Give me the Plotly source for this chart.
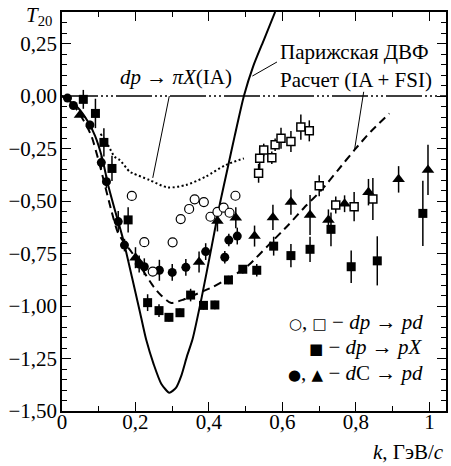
import plotly.graph_objects as go

# ---- theory curves ----
paris_x = [0, 0.04, 0.07, 0.09, 0.11, 0.125, 0.145, 0.166, 0.19, 0.211, 0.229, 0.25, 0.27, 0.292,
           0.31, 0.325, 0.34, 0.355, 0.38, 0.408, 0.43, 0.45, 0.47, 0.495, 0.52, 0.55, 0.58]
paris_y = [0, -0.05, -0.12, -0.19, -0.30, -0.42, -0.55, -0.68, -0.86, -1.02, -1.16, -1.28, -1.37, -1.413,
           -1.39, -1.33, -1.24, -1.16, -0.96, -0.71, -0.51, -0.35, -0.19, 0.0, 0.14, 0.27, 0.40]

fsi_x = [0, 0.03, 0.06, 0.08, 0.10, 0.116, 0.135, 0.152, 0.17, 0.19, 0.22, 0.25, 0.27, 0.296, 0.33,
         0.37, 0.41, 0.445, 0.48, 0.508, 0.562, 0.616, 0.66, 0.706, 0.75, 0.796, 0.84, 0.891]
fsi_y = [0, -0.04, -0.12, -0.19, -0.31, -0.42, -0.55, -0.65, -0.70, -0.745, -0.83, -0.91, -0.95, -0.985, -0.97,
         -0.94, -0.91, -0.876, -0.84, -0.805, -0.71, -0.614, -0.53, -0.448, -0.355, -0.257, -0.17, -0.083]

ia_x = [0.105, 0.125, 0.143, 0.157, 0.184, 0.193, 0.238, 0.287, 0.337, 0.391, 0.445, 0.495]
ia_y = [-0.18, -0.233, -0.289, -0.305, -0.36, -0.368, -0.40, -0.435, -0.424, -0.384, -0.329, -0.297]

# ---- data: dp -> pd (open circles) ----
oc_x = [0.19, 0.224, 0.247, 0.301, 0.323, 0.346, 0.361, 0.386, 0.404, 0.423, 0.44, 0.456, 0.472]
oc_y = [-0.476, -0.696, -0.836, -0.697, -0.586, -0.538, -0.492, -0.505, -0.575, -0.552, -0.532, -0.556, -0.475]

# ---- data: dp -> pd (open squares) ----
os_x = [0.535, 0.538, 0.549, 0.571, 0.58, 0.596, 0.623, 0.65, 0.673, 0.70, 0.745, 0.795, 0.846]
os_y = [-0.368, -0.297, -0.257, -0.294, -0.232, -0.201, -0.217, -0.148, -0.166, -0.427, -0.519, -0.527, -0.49]
os_e = [0.045, 0.05, 0.03, 0.03, 0.03, 0.05, 0.05, 0.06, 0.05, 0.05, 0.04, 0.07, 0.10]

# ---- data: dp -> pX (filled squares) ----
fs_x = [0.058, 0.091, 0.114, 0.136, 0.18, 0.233, 0.264, 0.291, 0.321, 0.35, 0.385, 0.416, 0.453,
        0.492, 0.53, 0.576, 0.623, 0.675, 0.732, 0.787, 0.858, 0.982]
fs_y = [-0.016, -0.083, -0.221, -0.345, -0.59, -0.984, -1.022, -1.054, -1.032, -0.948, -0.997, -0.995, -0.876,
        -0.825, -0.83, -0.715, -0.76, -0.73, -0.635, -0.813, -0.785, -0.559]
fs_e = [0.045, 0.07, 0.067, 0.06, 0.06, 0.04, 0.03, 0.02, 0.02, 0.03, 0.02, 0.02, 0.02,
        0.02, 0.03, 0.045, 0.055, 0.06, 0.08, 0.077, 0.117, 0.155]

# ---- data: dC -> pd (filled circles) ----
fc_x = [0.015, 0.031, 0.076, 0.107, 0.121, 0.153, 0.17, 0.21, 0.224, 0.265, 0.30, 0.337, 0.391, 0.443, 0.454, 0.477]
fc_y = [-0.01, -0.045, -0.138, -0.317, -0.408, -0.598, -0.71, -0.80, -0.813, -0.83, -0.84, -0.816, -0.741, -0.768, -0.686, -0.667]
fc_e = [0, 0, 0.02, 0.03, 0.03, 0.05, 0.03, 0.04, 0.04, 0.05, 0.04, 0.04, 0.04, 0.03, 0.03, 0.04]

# ---- data: dC -> pd (filled triangles) ----
ft_x = [0.049, 0.2, 0.373, 0.423, 0.473, 0.524, 0.574, 0.623, 0.675, 0.725, 0.769, 0.834, 0.916, 0.996]
ft_y = [-0.09, -0.77, -0.79, -0.595, -0.58, -0.667, -0.578, -0.505, -0.567, -0.59, -0.513, -0.458, -0.397, -0.352]
ft_e = [0, 0.05, 0.05, 0.05, 0.05, 0.05, 0.06, 0.06, 0.095, 0.05, 0.04, 0.063, 0.063, 0.12]

x_ticks = [0, 0.2, 0.4, 0.6, 0.8, 1.0]
x_labels = ["0", "0,2", "0,4", "0,6", "0,8", "1"]
y_ticks = [0.25, 0, -0.25, -0.5, -0.75, -1.0, -1.25, -1.5]
y_labels = ["0,25", "0,00", "\u22120,25", "\u22120,50", "\u22120,75", "\u22121,00", "\u22121,25", "\u22121,50"]

FONT = "'Liberation Serif', 'DejaVu Serif', 'Times New Roman', serif"
fig = go.Figure()

fig.add_trace(go.Scatter(x=ia_x, y=ia_y, mode="lines", line=dict(color="black", width=2, dash="2px,2.5px", shape="spline", smoothing=0.8)))
fig.add_trace(go.Scatter(x=fsi_x, y=fsi_y, mode="lines", line=dict(color="black", width=2, dash="8px,5px", shape="spline", smoothing=0.6)))
fig.add_trace(go.Scatter(x=paris_x, y=paris_y, mode="lines", line=dict(color="black", width=2, shape="spline", smoothing=0.6)))

eb = dict(type="data", width=0, thickness=1.5, color="black")
fig.add_trace(go.Scatter(x=fs_x, y=fs_y, mode="markers", error_y=dict(array=fs_e, **eb),
                         marker=dict(symbol="square", size=9, color="black")))
fig.add_trace(go.Scatter(x=fc_x, y=fc_y, mode="markers", error_y=dict(array=fc_e, **eb),
                         marker=dict(symbol="circle", size=9, color="black")))
fig.add_trace(go.Scatter(x=ft_x, y=ft_y, mode="markers", error_y=dict(array=ft_e, **eb),
                         marker=dict(symbol="triangle-up", size=11, color="black")))
fig.add_trace(go.Scatter(x=os_x, y=os_y, mode="markers", error_y=dict(array=os_e, **eb),
                         marker=dict(symbol="square", size=8, color="white", line=dict(color="black", width=1.5))))
fig.add_trace(go.Scatter(x=oc_x, y=oc_y, mode="markers",
                         marker=dict(symbol="circle", size=9, color="white", line=dict(color="black", width=1.2))))

# zero line (dash-dot-dot)
fig.add_shape(type="line", xref="paper", x0=0, x1=1, yref="y", y0=0, y1=0,
              line=dict(color="black", width=1.5, dash="36px,3px,2px,3px,2px,3px,2px,3px"), layer="below")
# pointer lines
ptr = dict(color="black", width=1)
fig.add_shape(type="line", xref="x", yref="y", x0=0.292, y0=0.0, x1=0.247, y1=-0.39, line=ptr)
fig.add_shape(type="line", xref="x", yref="y", x0=0.585, y0=0.162, x1=0.518, y1=0.095, line=ptr)
fig.add_shape(type="line", xref="x", yref="y", x0=0.821, y0=0.02, x1=0.796, y1=-0.257, line=ptr)

tf = dict(family=FONT, size=21, color="black")
def ann(text, x, y, xanchor="left", yanchor="middle"):
    fig.add_annotation(text=text, x=x, y=y, xref="paper", yref="paper", showarrow=False,
                       xanchor=xanchor, yanchor=yanchor, font=tf)

def sym(ch):
    return '<span style="font-family:DejaVu Sans;font-size:15px;color:black">' + ch + '</span>'

ann("<i>dp</i> \u2192 <i>\u03c0X</i>(IA)", 0.145, 0.838)
ann("Парижская ДВФ", 0.563, 0.901)
ann("Расчет (IA + FSI)", 0.563, 0.83)
ann(sym("\u25cb") + ", " + sym("\u25a1") + " \u2212 <i>dp</i> \u2192 <i>pd</i>", 0.945, 0.224, xanchor="right")
ann(sym("\u25a0") + " \u2212 <i>dp</i> \u2192 <i>pX</i>", 0.945, 0.161, xanchor="right")
ann(sym("\u25cf") + ", " + sym("\u25b2") + " \u2212 <i>d</i>C \u2192 <i>pd</i>", 0.945, 0.095, xanchor="right")
ann("<i>T</i><sub>20</sub>", -0.02, 0.99, xanchor="right")
ann("<i>k</i>, ГэВ/<i>c</i>", 1.0, -0.103, xanchor="right")

axis_common = dict(showline=True, linecolor="black", linewidth=1.5, mirror="ticks",
                   ticks="inside", ticklen=9, tickwidth=1.3, tickcolor="black",
                   showgrid=False, zeroline=False, tickfont=dict(family=FONT, size=21, color="black"))
fig.update_xaxes(range=[0, 1.045], tickvals=x_ticks, ticktext=x_labels, ticklabelstandoff=-9,
                 minor=dict(dtick=0.1, tick0=0, ticks="inside", ticklen=5, tickwidth=1.3, tickcolor="black"),
                 **axis_common)
fig.update_yaxes(range=[-1.5, 0.4], tickvals=y_ticks, ticktext=y_labels, ticklabelstandoff=-1,
                 minor=dict(dtick=0.05, tick0=0, ticks="inside", ticklen=5, tickwidth=1.3, tickcolor="black"),
                 **axis_common)

fig.update_layout(width=451, height=466, margin=dict(l=62, r=3, t=12, b=55),
                  paper_bgcolor="white", plot_bgcolor="white", showlegend=False,
                  font=dict(family=FONT, color="black"))
fig.write_html("out.html")
